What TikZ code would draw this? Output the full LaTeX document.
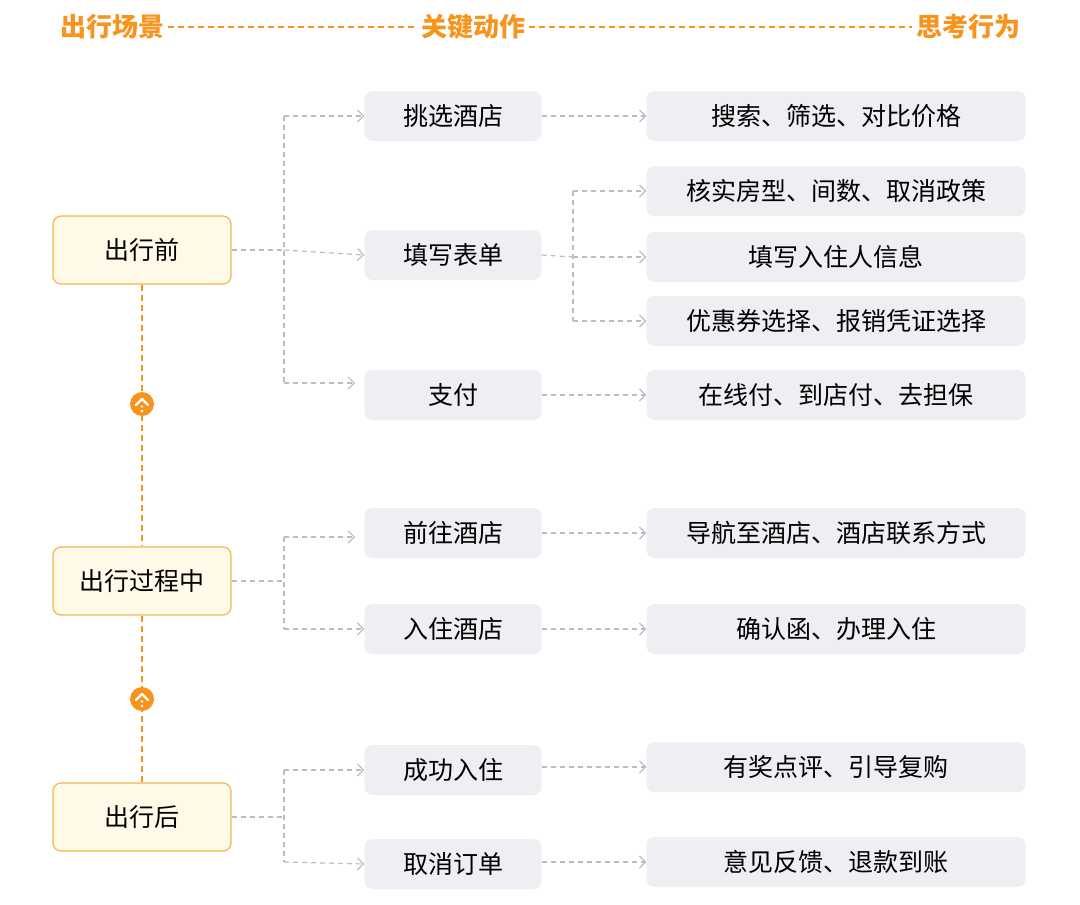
\documentclass[tikz,border=0pt]{standalone}
\usepackage{fontspec}
\setmainfont{Noto Sans CJK SC}
\usetikzlibrary{positioning,arrows.meta}
\definecolor{orng}{HTML}{F7941D}
\definecolor{scenefill}{HTML}{FFF9E8}
\definecolor{sceneline}{HTML}{F5B54A}
\definecolor{boxfill}{HTML}{EEEFF2}
\definecolor{linkgray}{HTML}{BDBDBD}

\begin{document}
\begin{tikzpicture}[x=1pt, y=-1pt,
        scene/.style={rectangle, rounded corners=8pt, draw=sceneline, line width=1.2pt, fill=scenefill, minimum width=178pt, minimum height=68pt, font=\fontsize{25}{30}\selectfont},
        action/.style={rectangle, rounded corners=8pt, fill=boxfill, minimum width=177pt, minimum height=50pt, font=\fontsize{25}{30}\selectfont},
        thought/.style={rectangle, rounded corners=8pt, fill=boxfill, minimum width=379pt, minimum height=50pt, font=\fontsize{25}{30}\selectfont},
        head/.style={text=orng, font=\fontsize{26}{30}\selectfont\bfseries},
        link/.style={draw=linkgray, line width=1.2pt, dash pattern=on 5pt off 4pt},
        linkarrow/.style={link, -{Straight Barb[length=6pt, width=12pt, line width=1.2pt]}},
        stage/.style={draw=orng, line width=1.4pt, dash pattern=on 6pt off 4pt}
      ]
        \useasboundingbox (0,0) rectangle (1080,905);

        % header
        \node[head] (hscene)   at (112, 27)  {出行场景};
        \node[head] (haction)  at (473, 27)  {关键动作};
        \node[head] (hthought) at (968, 27)  {思考行为};
        \draw[stage] (hscene.east) -- (haction.west);
        \draw[stage] (haction.east) -- (hthought.west);

        % scenes
        \node[scene] (before) at (142, 250) {出行前};
        \node[scene] (during) at (142, 581) {出行过程中};
        \node[scene] (after)  at (142, 817) {出行后};

        % actions
        \node[action] (pick)   at (453, 116) {挑选酒店};
        \node[action] (form)   at (453, 255) {填写表单};
        \node[action] (pay)    at (453, 395) {支付};
        \node[action] (goto)   at (453, 533) {前往酒店};
        \node[action] (checkin) at (453, 629) {入住酒店};
        \node[action] (stay)   at (453, 770) {成功入住};
        \node[action] (cancel) at (453, 864) {取消订单};

        % thoughts
        \node[thought] (search) at (836, 116) {搜索、筛选、对比价格};
        \node[thought] (verify) at (836, 191) {核实房型、间数、取消政策};
        \node[thought] (guest)  at (836, 257) {填写入住人信息};
        \node[thought] (coupon) at (836, 321) {优惠券选择、报销凭证选择};
        \node[thought] (payway) at (836, 395) {在线付、到店付、去担保};
        \node[thought] (nav)    at (836, 533) {导航至酒店、酒店联系方式};
        \node[thought] (confirm) at (836, 629) {确认函、办理入住};
        \node[thought] (review) at (836, 767) {有奖点评、引导复购};
        \node[thought] (refund) at (836, 862) {意见反馈、退款到账};

        % stage line with markers
        \coordinate (mark1) at (142, 404);
        \coordinate (mark2) at (142, 699);
        \draw[stage] (before.south) -- (mark1) -- (during.north);
        \draw[stage] (during.south) -- (mark2) -- (after.north);
        \foreach \m in {mark1, mark2} {
          \fill[orng] (\m) circle (12pt);
          \draw[white, line width=2.2pt, line cap=round, line join=round] ([xshift=-6pt, yshift=-1pt]\m) -- ([yshift=5pt]\m) -- ([xshift=6pt, yshift=-1pt]\m);
          \fill[white] ([yshift=-7pt]\m) circle (1.3pt);
          \fill[white] ([yshift=-2.5pt]\m) circle (1.3pt);
        }

        % scene -> actions
        \draw[link] (before.east) -- (284, 250);
        \draw[link] (284, 116) -- (284, 383);
        \draw[linkarrow] (284, 116) -- (pick.west);
        \draw[linkarrow] (284, 250 -| 284, 255) -- (form.west);
        \draw[linkarrow] (284, 383) -- (355, 383);

        \draw[link] (during.east) -- (284, 581);
        \draw[link] (284, 537) -- (284, 629);
        \draw[linkarrow] (284, 537) -- (355, 537);
        \draw[linkarrow] (284, 629) -- (checkin.west);

        \draw[link] (after.east) -- (284, 817);
        \draw[link] (284, 770) -- (284, 862);
        \draw[linkarrow] (284, 770) -- (stay.west);
        \draw[linkarrow] (284, 862) -- (cancel.west);

        % actions -> thoughts
        \draw[linkarrow] (pick.east) -- (search.west);
        \draw[link] (form.east) -- (573, 257);
        \draw[link] (573, 191) -- (573, 321);
        \draw[linkarrow] (573, 191) -- (verify.west);
        \draw[linkarrow] (573, 257) -- (guest.west);
        \draw[linkarrow] (573, 321) -- (coupon.west);
        \draw[linkarrow] (pay.east) -- (payway.west);
        \draw[linkarrow] (goto.east) -- (nav.west);
        \draw[linkarrow] (checkin.east) -- (confirm.west);
        \draw[linkarrow] (stay.east |- review) -- (review.west);
        \draw[linkarrow] (cancel.east |- refund) -- (refund.west);
      \end{tikzpicture}
\end{document}
